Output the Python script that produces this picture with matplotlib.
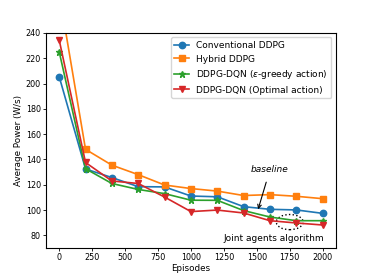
import matplotlib.pyplot as plt
from matplotlib.patches import Ellipse
import numpy as np

episodes = [0, 200, 400, 600, 800, 1000, 1200, 1400, 1600, 1800, 2000]
conventional = [205.5, 132.5, 125.7, 118.5, 118.3, 111.1, 110.5, 102.7, 100.6, 100.1, 97.4]
hybrid = [271.5, 148.0, 135.5, 128.0, 119.8, 117.0, 115.0, 111.5, 112.2, 110.9, 109.0]
eps_greedy = [225.2, 132.7, 121.0, 116.3, 113.0, 107.8, 107.7, 99.6, 94.5, 91.6, 91.6]
optimal = [234.5, 137.6, 123.0, 121.0, 110.3, 98.8, 100.0, 97.7, 91.6, 89.8, 88.2]

fig, ax = plt.subplots(figsize=(3.74, 2.79), dpi=100)
ms = 4.6
ax.plot(episodes, conventional, marker='o', ms=ms, lw=1.2, color='tab:blue', label='Conventional DDPG')
ax.plot(episodes, hybrid, marker='s', ms=ms, lw=1.2, color='tab:orange', label='Hybrid DDPG')
ax.plot(episodes, eps_greedy, marker='*', ms=ms, lw=1.2, color='tab:green', label=r'DDPG-DQN ($\epsilon$-greedy action)')
ax.plot(episodes, optimal, marker='v', ms=ms, lw=1.2, color='tab:red', label='DDPG-DQN (Optimal action)')

ax.set_xlim(-100, 2100)
ax.set_ylim(70, 240)
ax.set_xticks(np.arange(0, 2001, 250))
ax.set_yticks(np.arange(80, 241, 20))
ax.tick_params(labelsize=5.8, length=2.4, width=0.6, pad=1.3)
for s in ax.spines.values():
    s.set_linewidth(0.8)
ax.set_xlabel('Episodes', fontsize=6.3, labelpad=1.5)
ax.set_ylabel('Average Power (W/s)', fontsize=6.3, labelpad=2)

ax.annotate('baseline', xy=(1510, 100.6), xytext=(1600, 132), fontsize=6.5, style='italic',
            ha='center', va='center',
            arrowprops=dict(arrowstyle='->', color='black', lw=0.8, shrinkA=4, shrinkB=0))
ax.add_patch(Ellipse((1750, 90.5), 204, 12, fill=False, ls=':', lw=1.0, color='black'))
ax.text(1630, 77.4, 'Joint agents algorithm', fontsize=6.5, ha='center', va='center')

ax.legend(loc='upper right', fontsize=6.5, handlelength=1.6, borderaxespad=0.5)

fig.subplots_adjust(left=0.123, right=0.898, top=0.882, bottom=0.111)
fig.savefig('out.png')
